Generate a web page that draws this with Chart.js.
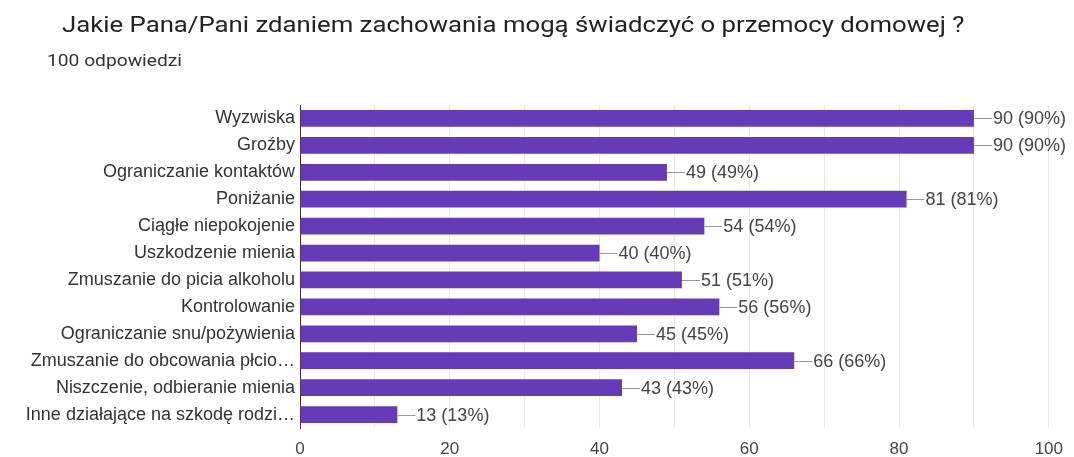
<!DOCTYPE html>
<html>
<head>
<meta charset="utf-8">
<script src="https://cdn.jsdelivr.net/npm/chart.js@4.4.1/dist/chart.umd.min.js"></script>
<style>
  html, body { margin: 0; padding: 0; background: #fff; }
  #wrap { position: relative; width: 1074px; height: 457px; font-family: Roboto, Arial, sans-serif; }
  #title { position: absolute; left: 62px; top: 12px; font-size: 22px; color: #222; white-space: nowrap; transform: scaleX(1.17); transform-origin: left top; }
  #sub { position: absolute; left: 47px; top: 51px; font-size: 16px; color: #333; white-space: nowrap; transform: scaleX(1.2); transform-origin: left top; }
  canvas { position: absolute; left: 0; top: 0; }
</style>
</head>
<body>
<div id="wrap">
  <canvas id="chart" width="1074" height="457"></canvas>
  <div id="title">Jakie Pana/Pani zdaniem zachowania mogą świadczyć o przemocy domowej ?</div>
  <div id="sub">100 odpowiedzi</div>
</div>
<script>
// Categories and answer counts
const categories = [
  "Wyzwiska",
  "Groźby",
  "Ograniczanie kontaktów",
  "Poniżanie",
  "Ciągłe niepokojenie",
  "Uszkodzenie mienia",
  "Zmuszanie do picia alkoholu",
  "Kontrolowanie",
  "Ograniczanie snu/pożywienia",
  "Zmuszanie do obcowania płcio…",
  "Niszczenie, odbieranie mienia",
  "Inne działające na szkodę rodzi…"
];
const counts = [90, 90, 49, 81, 54, 40, 51, 56, 45, 66, 43, 13];
const totalAnswers = 100;
const xTicks = [0, 20, 40, 60, 80, 100];

const FONT = "'Liberation Sans', Arial, sans-serif";

// value labels with a small leader line, like Google Forms
const leaderLabels = {
  id: "leaderLabels",
  afterDatasetsDraw(chart) {
    const ctx = chart.ctx;
    const meta = chart.getDatasetMeta(0);
    ctx.save();
    ctx.font = "18px " + FONT;
    ctx.textBaseline = "middle";
    meta.data.forEach((bar, i) => {
      const v = counts[i];
      const pct = Math.round(v / totalAnswers * 100);
      ctx.strokeStyle = "#999";
      ctx.lineWidth = 1;
      ctx.beginPath();
      ctx.moveTo(bar.x, Math.round(bar.y) + 0.5);
      ctx.lineTo(bar.x + 18, Math.round(bar.y) + 0.5);
      ctx.stroke();
      ctx.fillStyle = "#444";
      ctx.fillText(v + " (" + pct + "%)", bar.x + 19, bar.y + 1);
    });
    ctx.restore();
  }
};

new Chart(document.getElementById("chart"), {
  type: "bar",
  data: {
    labels: categories,
    datasets: [{
      data: counts,
      backgroundColor: "#673ab7",
      borderWidth: 0,
      barPercentage: 0.62,
      categoryPercentage: 1
    }]
  },
  options: {
    indexAxis: "y",
    responsive: false,
    animation: false,
    layout: { padding: { left: 0, right: 24, top: 105, bottom: 0 } },
    plugins: {
      legend: { display: false },
      tooltip: { enabled: false }
    },
    scales: {
      x: {
        min: 0,
        max: 100,
        ticks: {
          stepSize: 10,
          color: "#444",
          font: { family: FONT, size: 17 },
          padding: 11,
          callback: (v) => xTicks.includes(v) ? v : ""
        },
        grid: { color: "#e8e8e8", drawTicks: false },
        border: { display: false },
        afterFit: (s) => { s.height = 29; }
      },
      y: {
        ticks: {
          color: "#333",
          font: { family: FONT, size: 18 },
          padding: 5,
          autoSkip: false
        },
        grid: { display: false, drawTicks: false },
        border: { display: true, color: "#333", width: 1 },
        afterFit: (s) => { s.width = 300; }
      }
    }
  },
  plugins: [leaderLabels]
});
</script>
</body>
</html>
